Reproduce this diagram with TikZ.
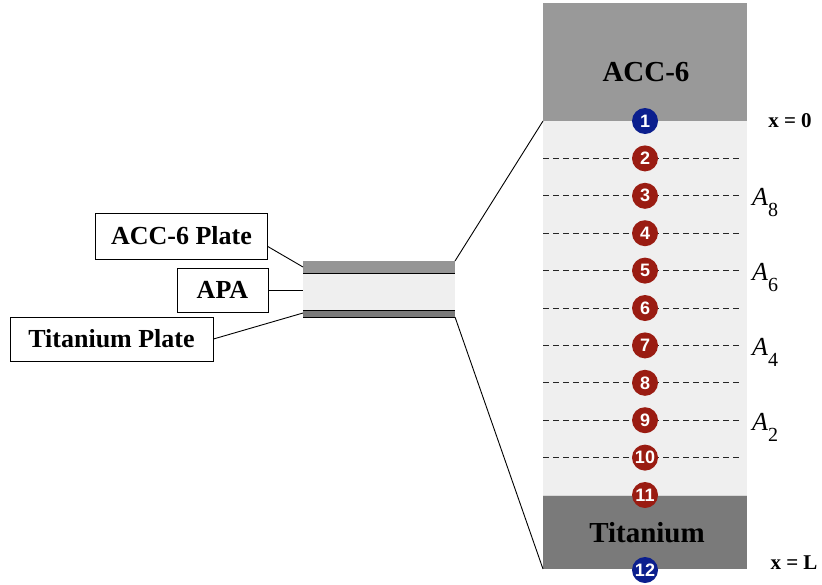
\documentclass[tikz,border=0pt]{standalone}
\usepackage{fontspec}
\setmainfont{Liberation Serif}
\newfontfamily\numfont{Liberation Sans}
\definecolor{accgray}{HTML}{999999}
\definecolor{tigray}{HTML}{7A7A7A}
\definecolor{apalight}{HTML}{EFEFEF}
\definecolor{dotblue}{HTML}{0B1F8E}
\definecolor{dotred}{HTML}{9A1C12}
\begin{document}
\begin{tikzpicture}[x=1pt,y=-1pt,
  labelbox/.style={draw=black, line width=1pt, fill=white, inner sep=0pt, font=\bfseries\fontsize{26}{26}\selectfont},
  dot/.style={circle, fill=dotred, minimum size=26pt, inner sep=0pt, text=white, font=\numfont\bfseries\fontsize{18}{18}\selectfont},
  bluedot/.style={dot, fill=dotblue},
  layerline/.style={black!85, dash pattern=on 6pt off 4pt, line width=1pt},
  connector/.style={black, line width=0.9pt},
  coordlabel/.style={font=\bfseries\fontsize{21}{21}\selectfont},
  alabel/.style={anchor=base west, inner sep=0pt, font=\fontsize{26}{26}\selectfont},
  title/.style={font=\bfseries\fontsize{29}{29}\selectfont}]
\useasboundingbox (0,0) rectangle (822,584);
% right column
\fill[accgray] (543,3) rectangle (747,121);
\fill[apalight] (543,121) rectangle (747,495);
\fill[tigray] (543,495) rectangle (747,569);
\draw[white!85!black, line width=0.8pt] (543,495) -- (747,495);
\node[title] (acctitle) at (646,72) {ACC-6};
\node[title] (tititle) at (647,533) {Titanium};
\coordinate (colTL) at (543,121);
\coordinate (colBL) at (543,569);
% dashed layer lines
\foreach \k in {1,...,9} {
  \draw[layerline] (543,{121+\k*37.4}) -- (742,{121+\k*37.4});
}
% points
\node[bluedot] (p1) at (645,121) {1};
\foreach \k in {2,...,11} {
  \node[dot] (p\k) at (645,{121+(\k-1)*37.4}) {\k};
}
\node[bluedot] (p12) at (645,570) {12};
% A labels
\node[alabel] (a8) at (752,{195.8+10}) {\itshape A\raisebox{-11pt}{\fontshape{n}\fontsize{20}{20}\selectfont 8}};
\node[alabel] (a6) at (752,{270.6+10}) {\itshape A\raisebox{-11pt}{\fontshape{n}\fontsize{20}{20}\selectfont 6}};
\node[alabel] (a4) at (752,{345.4+10}) {\itshape A\raisebox{-11pt}{\fontshape{n}\fontsize{20}{20}\selectfont 4}};
\node[alabel] (a2) at (752,{420.2+10}) {\itshape A\raisebox{-11pt}{\fontshape{n}\fontsize{20}{20}\selectfont 2}};
\node[coordlabel] (x0) at (790,121) {x = 0};
\node[coordlabel] (xL) at (794,563) {x = L};
% small plate
\fill[tigray!80!white] (303,261) rectangle (455,273);
\fill[apalight] (303,273) rectangle (455,310);
\fill[tigray] (303,310) rectangle (455,317);
\draw[black, line width=0.9pt] (303,273) -- (455,273);
\draw[black, line width=0.9pt] (303,310) -- (455,310);
\draw[black, line width=0.9pt] (303,317) -- (455,317);
\coordinate (plTR) at (455,261);
\coordinate (plBR) at (455,317);
\coordinate (plAcc) at (303,267);
\coordinate (plApa) at (303,290);
\coordinate (plTi) at (303,313);
\draw[connector] (plTR) -- (colTL);
\draw[connector] (plBR) -- (colBL);
% label boxes
\node[labelbox, minimum width=172pt, minimum height=46pt] (accbox) at (181.5,236) {ACC-6 Plate};
\node[labelbox, minimum width=91pt, minimum height=44pt] (apabox) at (222.5,290) {APA};
\node[labelbox, minimum width=203pt, minimum height=44pt] (tibox) at (111.5,339) {Titanium Plate};
\draw[connector] (accbox.-7) -- (plAcc);
\draw[connector] (apabox.east) -- (plApa);
\draw[connector] (tibox.east) -- (plTi);
\end{tikzpicture}
\end{document}
